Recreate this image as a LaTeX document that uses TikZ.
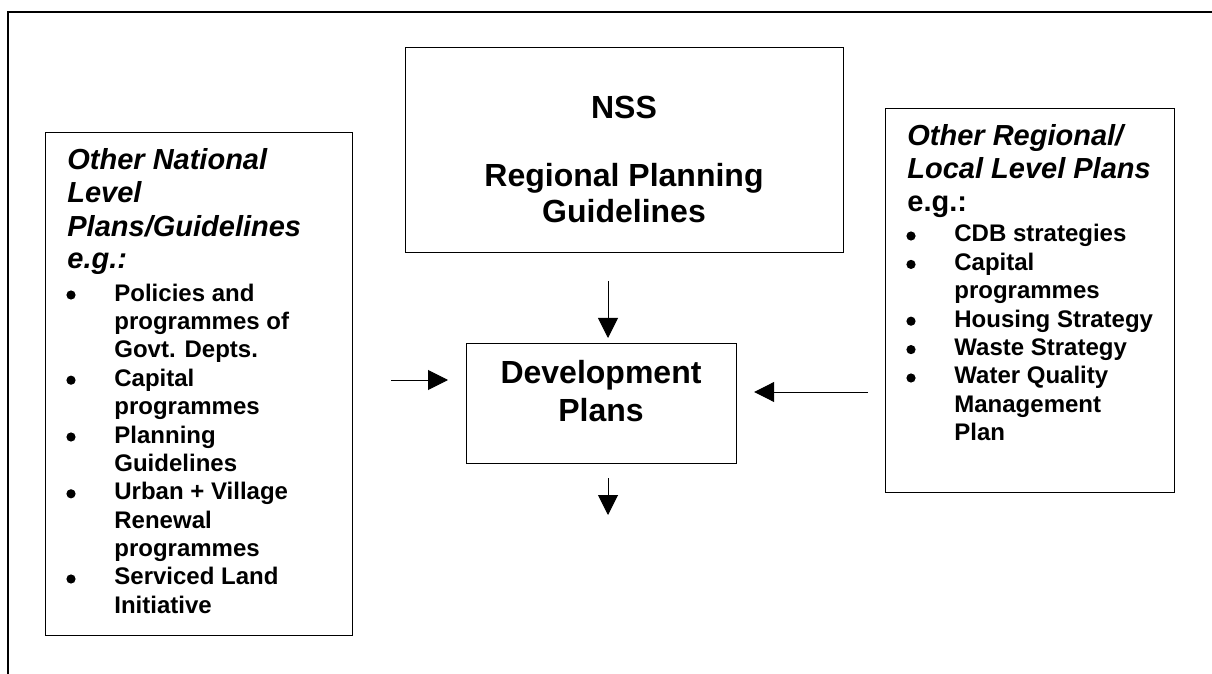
\documentclass[tikz,border=0pt]{standalone}
\usepackage{fontspec}
\setmainfont{Liberation Sans}
\usetikzlibrary{arrows.meta}

\newcommand\headfont{\fontsize{14.5}{16.5}\selectfont\bfseries}
\newcommand\listfont{\fontsize{12}{14.2}\selectfont\bfseries}
\newcommand\bigfont{\fontsize{16}{18}\selectfont\bfseries}

\begin{document}
\begin{tikzpicture}[
  x=0.5pt, y=-0.5pt,
  box/.style={draw, line width=0.6pt, inner sep=0pt, anchor=north west},
  txt/.style={inner sep=0pt, anchor=base west},
  mid/.style={inner sep=0pt, anchor=base, font=\bigfont},
  arr/.style={line width=0.5pt, -{Triangle[length=10pt, width=10pt]}}
]
\useasboundingbox (0,0) rectangle (1212,674);
\draw[line width=0.65pt] (1212,12) -- (8,12) -- (8,674);

% boxes
\node[box, minimum width=153.5pt, minimum height=251.5pt] (natBox) at (45,132) {};
\node[box, minimum width=219pt, minimum height=102.5pt] (nss) at (405,47) {};
\node[box, minimum width=144.5pt, minimum height=192pt] (regBox) at (885,108) {};
\node[box, minimum width=135pt, minimum height=60pt] (dev) at (466,343) {};

% national level plans
\node[txt, font=\headfont\itshape] (natHead) at (67,170) {\begin{tabular}[t]{@{}l@{}}
Other National\\
Level\\
Plans/Guidelines\\
e.g.:
\end{tabular}};
\node[txt, font=\listfont] (natList) at (67,301) {\begin{tabular}[t]{@{\hspace{23.5pt}}l@{}}
Policies and\\
programmes of\\
Govt. Depts.\\
Capital\\
programmes\\
Planning\\
Guidelines\\
Urban + Village\\
Renewal\\
programmes\\
Serviced Land\\
Initiative
\end{tabular}};
\foreach \k in {0,3,5,7,10}
  \fill (71,295+28.4*\k) circle (2.3pt);

% regional / local plans
\node[txt, font=\headfont\itshape] (regHead) at (907,146) {\begin{tabular}[t]{@{}l@{}}
Other Regional/\\
Local Level Plans\\
\upshape e.g.:
\end{tabular}};
\node[txt, font=\listfont] (regList) at (907,242) {\begin{tabular}[t]{@{\hspace{23.5pt}}l@{}}
CDB strategies\\
Capital\\
programmes\\
Housing Strategy\\
Waste Strategy\\
Water Quality\\
Management\\
Plan
\end{tabular}};
\foreach \k in {0,1,3,4,5}
  \fill (911,236+28.4*\k) circle (2.3pt);

\node[mid] (nssText) at (624,119) {\begin{tabular}[t]{@{}c@{}}
NSS\\[16pt]
Regional Planning\\
Guidelines
\end{tabular}};
\node[mid] (devText) at (601,383) {\begin{tabular}[t]{@{}c@{}}
Development\\[1pt]
Plans
\end{tabular}};

% arrows
\coordinate (topIn) at (608,281);
\coordinate (leftIn) at (391,380);
\coordinate (rightIn) at (868,392);
\coordinate (outEnd) at (608,515);
\draw[arr, shorten >=2.5pt] (topIn) -- (topIn |- dev.north);
\draw[arr, shorten >=9pt] (leftIn) -- (leftIn -| dev.west);
\draw[arr, shorten >=8.5pt] (rightIn) -- (rightIn -| dev.east);
\draw[arr, shorten <=7pt] (outEnd |- dev.south) -- (outEnd);
\end{tikzpicture}
\end{document}
